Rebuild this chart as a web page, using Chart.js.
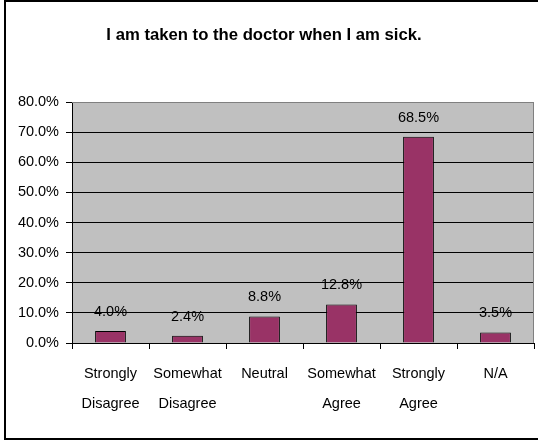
<!DOCTYPE html>
<html>
<head>
<meta charset="utf-8">
<script src="https://cdn.jsdelivr.net/npm/chart.js@4"></script>
<style>
  html, body { margin: 0; padding: 0; background: #fff; }
  #wrap { width: 538px; height: 440px; position: relative; }
</style>
</head>
<body>
<div id="wrap"><canvas id="chart"></canvas></div>
<script>
const chartTitle = "I am taken to the doctor when I am sick.";
const categories = [
    ["Strongly", "Disagree"],
    ["Somewhat", "Disagree"],
    "Neutral",
    ["Somewhat", "Agree"],
    ["Strongly", "Agree"],
    "N/A"
];
const percentValues = [4.0, 2.4, 8.8, 12.8, 68.5, 3.5];
const yTickValues = [0, 10, 20, 30, 40, 50, 60, 70, 80];

const fontFamily = "'Liberation Sans', Arial, sans-serif";

// frame, grey plot background, plot border, title and value labels
const decorations = {
    id: "decorations",
    beforeDraw(chart) {
        const { ctx, chartArea: a } = chart;
        ctx.save();
        ctx.fillStyle = "#c0c0c0";
        ctx.fillRect(a.left, a.top, a.right - a.left, a.bottom - a.top);
        ctx.restore();
    },
    afterDatasetsDraw(chart) {
        const { ctx, chartArea: a } = chart;
        ctx.save();
        // top/right border of plot
        ctx.strokeStyle = "#808080";
        ctx.lineWidth = 1;
        ctx.beginPath();
        ctx.moveTo(a.left, a.top + 0.5);
        ctx.lineTo(a.right - 0.5, a.top + 0.5);
        ctx.lineTo(a.right - 0.5, a.bottom);
        ctx.stroke();

        // value labels
        ctx.fillStyle = "#000";
        ctx.font = "14.5px " + fontFamily;
        ctx.textAlign = "center";
        ctx.textBaseline = "alphabetic";
        chart.getDatasetMeta(0).data.forEach((bar, i) => {
            ctx.fillText(percentValues[i].toFixed(1) + "%", bar.x, bar.y - 15);
        });

        // title
        ctx.font = "bold 16.7px " + fontFamily;
        ctx.fillText(chartTitle, 264, 40);

        // outer frame
        ctx.strokeStyle = "#000";
        ctx.lineWidth = 2;
        ctx.strokeRect(5, 1, 545, 438);
        ctx.restore();
    }
};

const ctx = document.getElementById("chart").getContext("2d");
new Chart(ctx, {
    type: "bar",
    data: {
        labels: categories,
        datasets: [{
            data: percentValues,
            backgroundColor: "#993366",
            borderColor: "#000",
            borderWidth: 1,
            categoryPercentage: 1,
            barPercentage: 0.4
        }]
    },
    options: {
        responsive: true,
        maintainAspectRatio: false,
        animation: false,
        layout: { padding: { top: 102, right: 4, left: 0, bottom: 0 } },
        plugins: {
            legend: { display: false },
            title: { display: false },
            tooltip: { enabled: false }
        },
        scales: {
            x: {
                grid: {
                    offset: true,
                    drawOnChartArea: false,
                    drawTicks: true,
                    tickLength: 6,
                    color: "#000"
                },
                border: { color: "#000", width: 1 },
                ticks: {
                    color: "#000",
                    padding: 10,
                    maxRotation: 0,
                    autoSkip: false,
                    font: { family: fontFamily, size: 14.5, lineHeight: "30px" }
                },
                afterFit(scale) { scale.height = 97; }
            },
            y: {
                min: 0,
                max: 80,
                afterBuildTicks(scale) {
                    scale.ticks = yTickValues.map(v => ({ value: v }));
                },
                grid: {
                    color: ctx => ctx.tick && ctx.tick.value === 80 ? "#808080" : "#000",
                    tickLength: 6,
                    tickColor: "#000"
                },
                border: { color: "#000", width: 1 },
                ticks: {
                    color: "#000",
                    padding: 7,
                    font: { family: fontFamily, size: 14.5 },
                    callback: v => v.toFixed(1) + "%"
                },
                afterFit(scale) { scale.width = 72; }
            }
        }
    },
    plugins: [decorations]
});
</script>
</body>
</html>
